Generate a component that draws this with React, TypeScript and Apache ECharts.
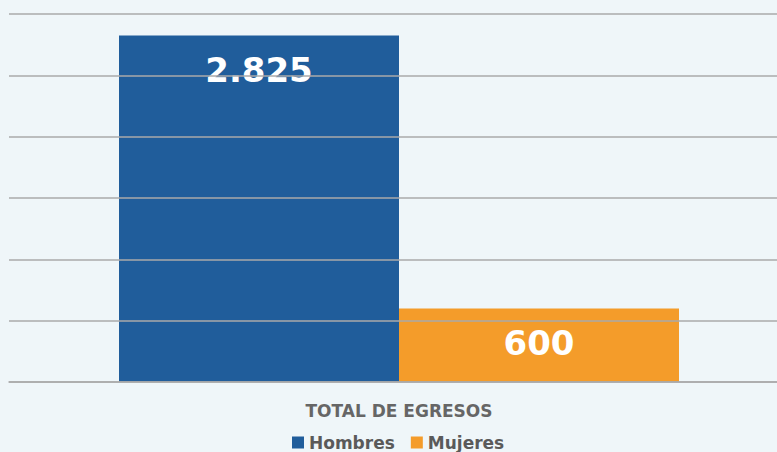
import React, { useEffect, useRef } from "react";
import * as echarts from "echarts";

const categories = ["TOTAL DE EGRESOS"];
const seriesNames = ["Hombres", "Mujeres"];
const hombres = [2825];
const mujeres = [600];
const yMax = 3000;
const yStep = 500;
const colors = ["#205d9b", "#f49c2a"];

const fmt = (v: number) => v.toLocaleString("de-DE");

export default function App() {
  const ref = useRef<HTMLDivElement>(null);
  useEffect(() => {
    const chart = echarts.init(ref.current!, null, { renderer: "svg" });
    const label = {
      show: true,
      position: "insideTop" as const,
      distance: 18,
      color: "#ffffff",
      fontSize: 34,
      fontWeight: "bold" as const,
      fontFamily: "DejaVu Sans",
      formatter: (p: any) => fmt(p.value),
    };
    const valueAxisBase = { type: "value", min: 0, max: yMax, interval: yStep, axisLabel: { show: false }, axisLine: { show: false }, axisTick: { show: false } };
    chart.setOption({
      animation: false,
      backgroundColor: "#eff6f9",
      grid: [
        { left: 9, right: 0, top: 14, bottom: 70, containLabel: false },
        { left: 21, right: 0, top: 14, bottom: 70, containLabel: false },
      ],
      legend: {
        data: seriesNames,
        top: 434,
        left: 292,
        padding: 0,
        itemWidth: 12,
        itemHeight: 12,
        itemGap: 16,
        icon: "rect",
        textStyle: { color: "#5a5a5a", fontSize: 17, fontWeight: "bold", fontFamily: "DejaVu Sans" },
      },
      xAxis: [
        {
          gridIndex: 0,
          type: "category",
          data: categories,
          axisTick: { show: false },
          axisLabel: { show: false },
          axisLine: { lineStyle: { color: "#aaaaaa", width: 1.5 } },
          z: 10,
        },
        {
          gridIndex: 1,
          type: "category",
          data: categories,
          axisTick: { show: false },
          axisLine: { show: false },
          axisLabel: {
            color: "#666",
            fontSize: 17,
            fontWeight: "bold",
            fontFamily: "DejaVu Sans",
            margin: 20,
          },
        },
      ],
      yAxis: [
        { ...valueAxisBase, gridIndex: 0, splitLine: { lineStyle: { color: "#aaaaaa", width: 1.5 } }, z: 10 },
        { ...valueAxisBase, gridIndex: 1, splitLine: { show: false } },
      ],
      series: [
        { name: seriesNames[0], type: "bar", xAxisIndex: 1, yAxisIndex: 1, data: hombres, barWidth: 280, barGap: "0%", itemStyle: { color: colors[0] }, label },
        { name: seriesNames[1], type: "bar", xAxisIndex: 1, yAxisIndex: 1, data: mujeres, barWidth: 280, barGap: "0%", itemStyle: { color: colors[1] }, label },
      ],
    });
    return () => chart.dispose();
  }, []);
  return <div ref={ref} style={{ width: 777, height: 452, position: "fixed", left: 0, top: 0, overflow: "hidden" }} />;
}
